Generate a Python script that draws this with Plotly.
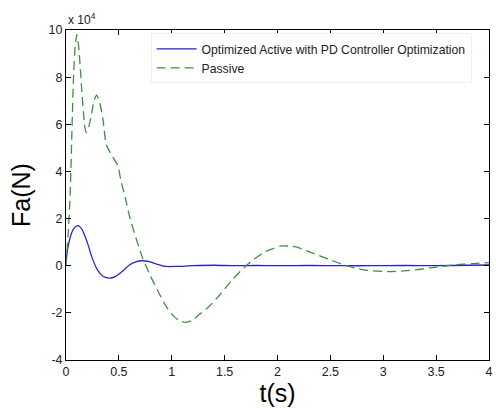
import plotly.graph_objects as go

# time (s) and force (x 1e4 N)
t_active = [0.0, 0.01, 0.04, 0.07, 0.112, 0.15, 0.20, 0.25, 0.30, 0.35, 0.41, 0.47, 0.53, 0.60, 0.66, 0.72, 0.78, 0.85, 0.94, 1.05, 1.2, 1.4, 1.6, 1.8, 2.0, 2.3, 2.6, 2.9, 3.2, 3.5, 3.8, 4.0]
f_active = [0.1, 0.55, 1.2, 1.55, 1.70, 1.55, 1.0, 0.3, -0.2, -0.45, -0.53, -0.45, -0.25, 0.03, 0.16, 0.21, 0.18, 0.08, -0.03, -0.03, 0.0, 0.02, 0.0, 0.01, 0.0, 0.01, 0.0, 0.0, 0.01, 0.0, 0.02, 0.03]

t_passive = [0.0, 0.02, 0.04, 0.056, 0.072, 0.088, 0.103, 0.12, 0.15, 0.175, 0.19, 0.21, 0.24, 0.265, 0.29, 0.32, 0.35, 0.38, 0.43, 0.49, 0.52, 0.56, 0.60, 0.66, 0.72, 0.80, 0.88, 0.95, 1.02, 1.08, 1.13, 1.19, 1.255, 1.35, 1.44, 1.57, 1.71, 1.88, 2.04, 2.12, 2.19, 2.35, 2.50, 2.63, 2.82, 3.04, 3.20, 3.35, 3.50, 3.66, 3.85, 4.0]
f_passive = [0.0, 1.3, 3.1, 5.7, 8.1, 9.4, 9.8, 9.3, 7.4, 6.0, 5.65, 5.8, 6.4, 7.0, 7.24, 6.9, 6.2, 5.15, 4.7, 4.25, 3.6, 2.9, 2.1, 1.2, 0.38, -0.45, -1.17, -1.75, -2.15, -2.35, -2.40, -2.33, -2.09, -1.74, -1.31, -0.61, 0.03, 0.59, 0.84, 0.83, 0.78, 0.5, 0.25, 0.03, -0.18, -0.25, -0.22, -0.15, -0.06, 0.03, 0.09, 0.13]

x_ticks = [0, 0.5, 1, 1.5, 2, 2.5, 3, 3.5, 4]
x_tick_text = ["0", "0.5", "1", "1.5", "2", "2.5", "3", "3.5", "4"]
y_ticks = [-4, -2, 0, 2, 4, 6, 8, 10]
y_tick_text = ["-4", "-2", "0", "2", "4", "6", "8", "10"]

font = "Liberation Sans, Arial, sans-serif"

fig = go.Figure()
fig.add_trace(go.Scatter(x=t_active, y=f_active, mode="lines", line=dict(color="#2626c8", width=1.3, shape="spline", smoothing=0.7),
                         name="Optimized Active with PD Controller Optimization"))
fig.add_trace(go.Scatter(x=t_passive, y=f_passive, mode="lines", line=dict(color="#3f8f3f", width=1.3, dash="9px,5px", shape="spline", smoothing=0.6),
                         name="Passive"))

axis_common = dict(showline=True, linecolor="black", linewidth=1, mirror="ticks", ticks="inside", ticklen=5,
                   tickcolor="black", showgrid=False, zeroline=False, ticklabeloverflow="allow",
                   tickfont=dict(family=font, size=12.5, color="#222"))
fig.update_xaxes(range=[0, 4], tickvals=x_ticks, ticktext=x_tick_text,
                 title=dict(text="t(s)", font=dict(family=font, size=25, color="black"), standoff=2), **axis_common)
fig.update_yaxes(range=[-4, 10], tickvals=y_ticks, ticktext=y_tick_text,
                 title=dict(text="Fa(N)", font=dict(family=font, size=25, color="black"), standoff=10), **axis_common)

fig.add_annotation(x=0, y=1, xref="paper", yref="paper", xanchor="left", yanchor="bottom", yshift=1,
                   text="x 10<sup>4</sup>", showarrow=False, font=dict(family=font, size=12, color="#222"))

fig.update_layout(
    width=496, height=408, margin=dict(l=66, r=3, t=30, b=48),
    paper_bgcolor="white", plot_bgcolor="white",
    showlegend=True,
    legend=dict(x=0.2, y=0.99, xanchor="left", yanchor="top", bgcolor="white", bordercolor="#f0f0f0", borderwidth=1,
                itemwidth=40, font=dict(family=font, size=12.2, color="#222"), tracegroupgap=0),
)

fig.write_html("out.html")
